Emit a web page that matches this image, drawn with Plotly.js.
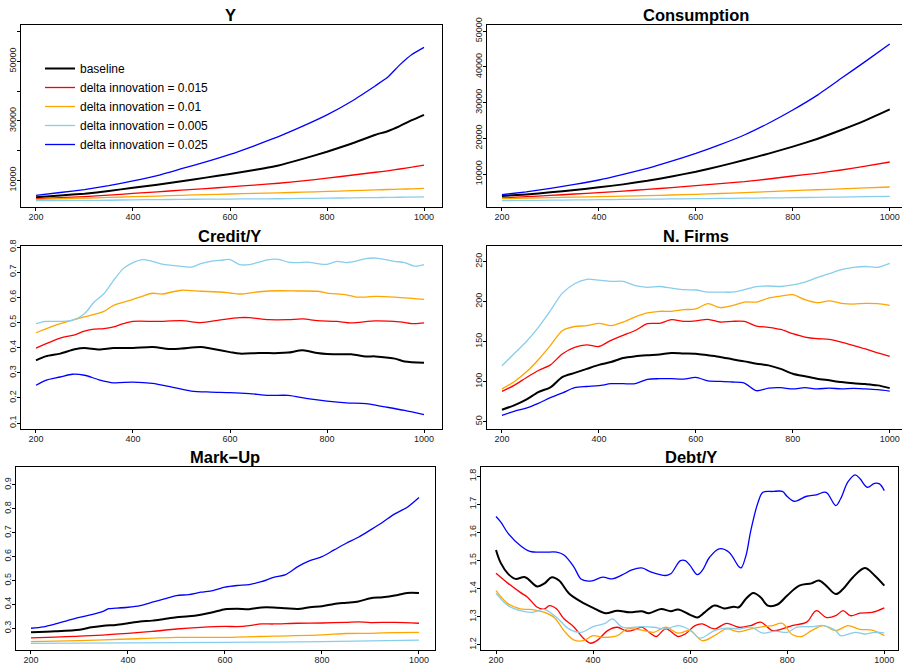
<!DOCTYPE html>
<html><head><meta charset="utf-8">
<script src="https://cdn.plot.ly/plotly-3.0.1.min.js"></script>
<style>html,body{margin:0;padding:0;overflow:hidden;background:#fff}</style>
</head><body><div id="chart"></div>
<script>
// ---------- data ----------
const seriesNames = ['baseline','delta innovation = 0.015','delta innovation = 0.01','delta innovation = 0.005','delta innovation = 0.025'];
const seriesColors = ['#000000','#ff0000','#ffa500','#87ceeb','#0000ff'];
const xTicks = [200,400,600,800,1000];

// Y
const yX = [200,250,300,350,400,450,500,550,600,650,700,750,800,850,900,925,950,975,1000];
const yBaseline = [4290,4900,5500,6400,7500,8500,9700,10900,12100,13500,15000,17200,19600,22300,25300,26500,28200,30200,32000];
const yRed = [3840,4150,4500,5000,5600,6100,6700,7200,7800,8400,9000,9800,10700,11700,12700,13200,13800,14400,15100];
const yOrange = [3600,3800,4000,4250,4500,4700,4950,5200,5400,5600,5800,6000,6250,6500,6750,6900,7000,7150,7300];
const yLight = [3150,3200,3250,3300,3450,3500,3600,3650,3700,3750,3800,3900,4000,4100,4200,4250,4300,4350,4400];
const yBlue = [4960,5900,6900,8200,9800,11600,13900,16200,18700,21600,24700,28200,32000,36500,41800,44600,48800,52300,54700];
const yTickVals = [10000,20000,30000,40000,50000,60000];
const yTickText = ['10000','','30000','','50000',''];

// Consumption
const cX = [200,250,300,350,400,450,500,550,600,650,700,750,800,850,900,950,1000];
const cBaseline = [3850,4300,4870,5500,6270,7100,8100,9300,10650,12200,13900,15700,17650,19800,22300,25000,28090];
const cRed = [3290,3650,4000,4400,4780,5200,5700,6200,6740,7300,7860,8600,9440,10200,11120,12200,13360];
const cOrange = [3100,3250,3380,3520,3660,3800,3960,4130,4310,4550,4800,5050,5340,5600,5850,6100,6360];
const cLight = [2540,2610,2680,2750,2820,2890,2960,3030,3100,3170,3240,3310,3380,3470,3560,3650,3750];
const cBlue = [4220,5000,6000,7100,8320,9900,11590,13600,15780,18200,20900,24200,27900,32000,36760,41500,46360];
const cTicks = [10000,20000,30000,40000,50000];

// Credit/Y
const crBlackX = [200,220,250,280,300,330,360,400,440,480,500,540,560,600,620,660,700,720,750,780,800,850,880,900,940,960,1000];
const crBlack = [0.349,0.365,0.376,0.393,0.398,0.392,0.398,0.398,0.402,0.394,0.396,0.402,0.396,0.382,0.376,0.378,0.378,0.380,0.389,0.378,0.374,0.373,0.365,0.365,0.356,0.345,0.340];
const crRedX = [200,250,280,300,320,340,360,380,400,450,500,540,580,620,640,680,720,750,780,820,850,900,950,980,1000];
const crRed = [0.398,0.438,0.451,0.465,0.473,0.475,0.482,0.495,0.504,0.504,0.507,0.499,0.510,0.519,0.519,0.511,0.511,0.514,0.507,0.504,0.498,0.506,0.502,0.495,0.498];
const crOrangeX = [200,250,300,340,360,400,420,440,460,480,500,540,580,600,620,660,700,740,780,800,840,860,880,900,940,980,1000];
const crOrange = [0.459,0.495,0.522,0.544,0.568,0.592,0.605,0.616,0.613,0.621,0.628,0.624,0.621,0.617,0.613,0.622,0.626,0.625,0.624,0.617,0.610,0.601,0.601,0.604,0.601,0.595,0.592];
const crLightX = [200,220,250,275,300,320,340,360,380,400,420,440,460,480,500,520,540,560,580,600,620,640,660,680,700,720,740,760,780,800,820,840,860,880,900,920,940,960,980,1000];
const crLight = [0.495,0.504,0.504,0.508,0.535,0.581,0.614,0.667,0.714,0.738,0.750,0.743,0.732,0.727,0.723,0.720,0.734,0.743,0.747,0.750,0.730,0.730,0.740,0.750,0.751,0.740,0.738,0.740,0.734,0.731,0.743,0.738,0.744,0.754,0.756,0.750,0.743,0.738,0.724,0.730];
const crBlueX = [200,220,250,275,300,330,360,400,440,480,520,560,600,640,680,720,760,800,840,880,920,960,1000];
const crBlue = [0.250,0.270,0.283,0.294,0.290,0.272,0.260,0.263,0.258,0.243,0.227,0.223,0.221,0.217,0.210,0.210,0.197,0.187,0.180,0.177,0.164,0.150,0.133];
const crTicks = [0.1,0.2,0.3,0.4,0.5,0.6,0.7,0.8];

// N. Firms
const nfX = [200,225,250,275,300,325,350,375,400,425,450,475,500,525,550,575,600,625,650,675,700,725,750,775,800,825,850,875,900,925,950,975,1000];
const nfBaseline = [65,70.4,77.5,87,93,106,111,116,121,124.6,129.6,131.7,133,134,136,135.4,135,133,131,128,125.4,122.5,120.4,116,110,106.7,103.75,101.7,99.6,98,97,95.4,92];
const nfRed = [88,95.4,105,114,121,135,143,146,144,151.7,158,164,172.5,173,177.5,175.4,176,178,174.6,175.4,175.4,169.6,168,165.4,160,155.8,153.75,153,149.6,145.4,141,136,131.7];
const nfOrange = [91,100,112,127.5,145.4,164,169,170,173,170,174.6,181,186,188,188,190,191,197.5,192.5,195,199.6,199.6,204.6,207,208.8,202.5,198.8,201,198,197,198,197.5,195.4];
const nfLight = [120,135,150,168,189,211,222.5,228,227,225.4,225.4,220,218,219,217,215,214.6,212,212,212,215,218.8,219.6,219,221,224.6,230,235,240,243,244,243,248];
const nfBlue = [58,63,67,73,80,86,92.5,94,95,97.5,97.5,97.5,103,103.75,103.75,103.3,105.4,101,100.4,99.6,98.3,88.75,92,92.5,91,92.5,91,92,91,91.7,91,90,88.3];
const nfTicks = [50,100,150,200,250];

// Mark-Up
const muBlackX = [200,250,300,325,350,375,400,425,450,475,500,525,550,575,600,625,650,675,700,725,750,775,800,825,850,875,900,925,950,975,1000];
const muBlack = [0.283,0.287,0.294,0.304,0.311,0.314,0.321,0.328,0.332,0.339,0.346,0.350,0.357,0.367,0.380,0.382,0.380,0.387,0.387,0.384,0.381,0.388,0.392,0.402,0.407,0.412,0.426,0.430,0.437,0.448,0.448];
const muRedX = [200,300,400,450,500,550,600,625,650,675,700,750,800,850,875,900,950,1000];
const muRed = [0.260,0.267,0.279,0.287,0.297,0.304,0.308,0.307,0.311,0.318,0.318,0.321,0.322,0.325,0.327,0.324,0.325,0.321];
const muOrangeX = [200,300,400,500,600,700,800,850,900,950,1000];
const muOrange = [0.244,0.248,0.255,0.262,0.262,0.267,0.272,0.278,0.279,0.282,0.283];
const muLightX = [200,400,600,800,1000];
const muLight = [0.237,0.239,0.241,0.244,0.250];
const muBlueX = [200,225,250,275,300,325,350,360,375,400,425,450,475,500,525,550,575,600,625,650,675,700,725,750,775,800,825,850,875,900,925,950,975,1000];
const muBlue = [0.300,0.306,0.318,0.332,0.346,0.357,0.372,0.382,0.384,0.388,0.395,0.409,0.423,0.437,0.441,0.451,0.458,0.472,0.479,0.483,0.495,0.513,0.525,0.558,0.583,0.600,0.628,0.656,0.681,0.712,0.744,0.779,0.806,0.848];
const muTicks = [0.3,0.4,0.5,0.6,0.7,0.8,0.9];

// Debt/Y
const dbBlackX = [200,210,225,240,260,285,300,315,330,350,375,400,425,450,475,500,515,540,560,575,600,615,630,650,670,690,700,715,730,745,760,780,800,825,850,865,880,900,915,935,960,980,1000];
const dbBlack = [1.538,1.491,1.453,1.435,1.441,1.408,1.419,1.441,1.429,1.384,1.354,1.332,1.313,1.322,1.316,1.320,1.313,1.328,1.320,1.326,1.307,1.298,1.316,1.340,1.330,1.336,1.334,1.364,1.385,1.370,1.340,1.344,1.376,1.411,1.419,1.429,1.411,1.381,1.399,1.440,1.474,1.447,1.411];
const dbRedX = [200,225,250,265,285,300,310,325,340,360,380,395,410,430,450,470,490,500,520,530,550,575,590,610,625,650,675,700,725,745,770,790,810,840,860,880,900,915,930,950,975,1000];
const dbRed = [1.455,1.419,1.387,1.370,1.334,1.328,1.340,1.328,1.293,1.265,1.224,1.206,1.218,1.251,1.263,1.249,1.257,1.263,1.239,1.230,1.257,1.230,1.239,1.269,1.275,1.257,1.277,1.263,1.269,1.281,1.251,1.257,1.269,1.281,1.322,1.298,1.304,1.322,1.304,1.313,1.316,1.332];
const dbOrangeX = [200,225,250,275,300,320,340,360,380,400,420,450,470,500,525,550,575,600,625,650,675,700,725,750,770,790,810,830,850,875,900,925,950,975,1000];
const dbOrange = [1.393,1.346,1.328,1.326,1.316,1.298,1.251,1.218,1.215,1.233,1.227,1.233,1.257,1.253,1.245,1.263,1.242,1.251,1.215,1.233,1.257,1.247,1.257,1.265,1.269,1.277,1.237,1.230,1.251,1.269,1.251,1.269,1.255,1.253,1.233];
const dbLightX = [200,225,250,275,300,325,350,375,400,425,440,460,500,525,550,575,600,620,650,675,700,725,750,775,800,820,850,875,900,910,940,960,980,1000];
const dbLight = [1.384,1.340,1.322,1.316,1.326,1.298,1.257,1.245,1.265,1.277,1.293,1.263,1.265,1.263,1.257,1.269,1.253,1.224,1.251,1.260,1.257,1.263,1.242,1.249,1.245,1.263,1.265,1.269,1.251,1.233,1.245,1.239,1.245,1.243];
const dbBlueX = [200,210,225,250,270,300,325,340,360,375,390,400,420,440,460,480,500,520,550,560,580,590,600,615,625,640,660,680,700,705,715,725,740,750,770,790,800,815,840,860,880,900,910,925,940,950,965,980,990,1000];
const dbBlue = [1.657,1.637,1.597,1.554,1.533,1.530,1.530,1.520,1.479,1.435,1.427,1.429,1.441,1.435,1.449,1.467,1.474,1.459,1.447,1.453,1.500,1.500,1.482,1.450,1.465,1.512,1.542,1.530,1.479,1.474,1.518,1.607,1.708,1.743,1.746,1.746,1.728,1.711,1.729,1.734,1.743,1.696,1.720,1.780,1.805,1.791,1.761,1.775,1.773,1.749];
const dbTicks = [1.2,1.3,1.4,1.5,1.6,1.7,1.8];

// ---------- layout geometry ----------
const W = 906, H = 666;
const FONT = 'Liberation Sans, Arial, Helvetica, sans-serif';

const panels = [
  {title:'Y', xs:[yX,yX,yX,yX,yX], ys:[yBaseline,yRed,yOrange,yLight,yBlue],
   box:[21,442,24.5,207], xr:[169.1,1037.1], yr:[1025,62370], tv:yTickVals, tt:yTickText, tx:230, ty:15, legend:true, spline:0.4},
  {title:'Consumption', xs:[cX,cX,cX,cX,cX], ys:[cBaseline,cRed,cOrange,cLight,cBlue],
   box:[486.7,905,24.5,207], xr:[168.5,1031.5], yr:[770,51818], tv:cTicks, tt:cTicks.map(String), tx:696, ty:15, spline:0.4},
  {title:'Credit/Y', xs:[crBlackX,crRedX,crOrangeX,crLightX,crBlueX], ys:[crBlack,crRed,crOrange,crLight,crBlue],
   box:[21,442,246.3,429.3], xr:[169.1,1037.1], yr:[0.075,0.8028], tv:crTicks, tt:crTicks.map(v=>v.toFixed(1)), tx:229, ty:236, spline:0.8},
  {title:'N. Firms', xs:[nfX,nfX,nfX,nfX,nfX], ys:[nfBaseline,nfRed,nfOrange,nfLight,nfBlue],
   box:[486.7,905,246.3,429.3], xr:[168.5,1031.5], yr:[40.5,269.25], tv:nfTicks, tt:nfTicks.map(String), tx:696, ty:236, spline:0.8},
  {title:'Mark\u2212Up', xs:[muBlackX,muRedX,muOrangeX,muLightX,muBlueX], ys:[muBlack,muRed,muOrange,muLight,muBlue],
   box:[16,435,467.3,650], xr:[169.1,1033], yr:[0.209,0.974], tv:muTicks, tt:muTicks.map(v=>v.toFixed(1)), tx:225, ty:457, spline:0.8},
  {title:'Debt/Y', xs:[dbBlackX,dbRedX,dbOrangeX,dbLightX,dbBlueX], ys:[dbBlack,dbRed,dbOrange,dbLight,dbBlue],
   box:[481,897.7,467.3,650], xr:[169.1,1027.6], yr:[1.182,1.832], tv:dbTicks, tt:dbTicks.map(v=>v.toFixed(1)), tx:691, ty:457, spline:1.0}
];

const traces = [];
const layout = {
  width: W, height: H,
  margin: {l:0, r:0, t:0, b:0},
  paper_bgcolor: '#fff', plot_bgcolor: '#fff',
  font: {family: FONT, color: '#000'},
  showlegend: true,
  legend: {x: 40/W, y: 1 - 54/H, xanchor: 'left', yanchor: 'top', bgcolor: 'rgba(0,0,0,0)', borderwidth: 0,
           font: {family: FONT, size: 12, color: '#000'}, traceorder: 'normal'},
  annotations: []
};

const tickFont = {family: FONT, size: 9, color: '#222'};

panels.forEach((p, i) => {
  const n = i + 1;
  const xa = n === 1 ? 'x' : 'x' + n;
  const ya = n === 1 ? 'y' : 'y' + n;
  [0,1,2,3,4].forEach(k => {
    traces.push({
      type: 'scatter', mode: 'lines',
      x: p.xs[k], y: p.ys[k],
      name: seriesNames[k],
      legendgroup: seriesNames[k],
      showlegend: !!p.legend,
      line: {color: seriesColors[k], width: k === 0 ? 2 : 1.3, shape: 'spline', smoothing: p.spline},
      xaxis: xa, yaxis: ya, hoverinfo: 'skip'
    });
  });
  const common = {
    ticks: 'outside', ticklen: 3, tickwidth: 1, tickcolor: '#000',
    showline: true, mirror: true, linecolor: '#000', linewidth: 1,
    showgrid: false, zeroline: false, tickfont: tickFont, fixedrange: true
  };
  layout[n === 1 ? 'xaxis' : 'xaxis' + n] = Object.assign({}, common, {
    domain: [p.box[0] / W, p.box[1] / W], range: p.xr, anchor: ya,
    tickmode: 'array', tickvals: xTicks, ticktext: xTicks.map(String), ticklabelstandoff: -2
  });
  layout[n === 1 ? 'yaxis' : 'yaxis' + n] = Object.assign({}, common, {
    domain: [1 - p.box[3] / H, 1 - p.box[2] / H], range: p.yr, anchor: xa,
    tickmode: 'array', tickvals: p.tv, ticktext: p.tt, tickangle: -90, ticklabelstandoff: -3
  });
  layout.annotations.push({
    text: '<b>' + p.title + '</b>', xref: 'paper', yref: 'paper',
    x: p.tx / W, y: 1 - p.ty / H, xanchor: 'center', yanchor: 'middle',
    showarrow: false, font: {family: FONT, size: 16.5, color: '#000'}
  });
});

Plotly.newPlot('chart', traces, layout, {staticPlot: true, displayModeBar: false});
</script>
</body></html>
